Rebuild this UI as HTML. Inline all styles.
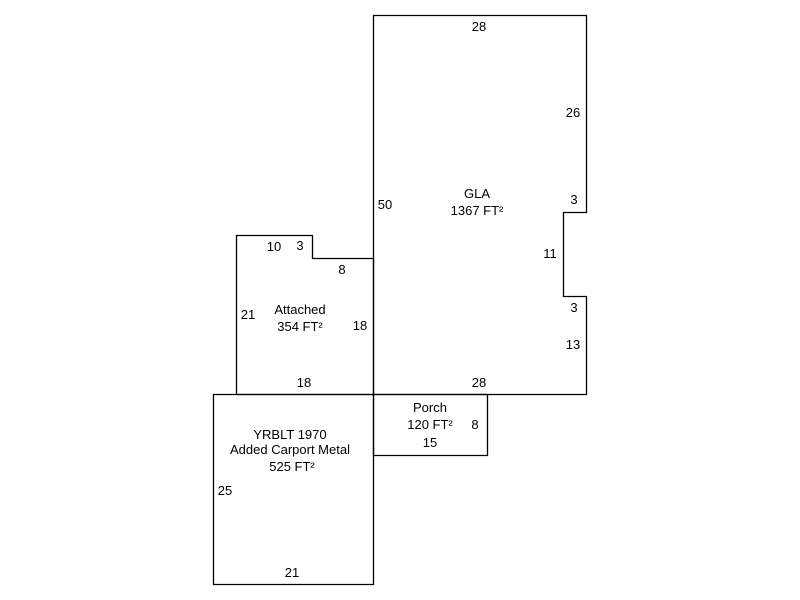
<!DOCTYPE html>
<html><head><style>body{margin:0;background:#fff}svg{display:block}text{font-family:"Liberation Sans",Arial,sans-serif;font-size:13px;fill:#000}</style></head>
<body>
<svg width="800" height="600" xmlns="http://www.w3.org/2000/svg">
<g fill="none" stroke="#000" stroke-width="1.3">
<path d="M373.5 15.5H586.5V212.5H563.5V296.5H586.5V394.5H373.5Z"/>
<path d="M236.5 235.5H312.5V258.5H373.5V394.5H236.5Z"/>
<path d="M213.5 394.5H373.5V584.5H213.5Z"/>
<path d="M373.5 394.5H487.5V455.5H373.5Z"/>
</g>
<g text-anchor="middle">
<text x="479" y="31">28</text>
<text x="573" y="117">26</text>
<text x="574" y="204">3</text>
<text x="550" y="258">11</text>
<text x="574" y="312">3</text>
<text x="573" y="349">13</text>
<text x="479" y="387">28</text>
<text x="385" y="209">50</text>
<text x="477" y="198">GLA</text>
<text x="477" y="215">1367 FT²</text>
<text x="274" y="251">10</text>
<text x="300" y="250">3</text>
<text x="342" y="274">8</text>
<text x="248" y="319">21</text>
<text x="300" y="314">Attached</text>
<text x="300" y="331">354 FT²</text>
<text x="360" y="330">18</text>
<text x="304" y="387">18</text>
<text x="430" y="412">Porch</text>
<text x="430" y="429">120 FT²</text>
<text x="475" y="429">8</text>
<text x="430" y="447">15</text>
<text x="290" y="439">YRBLT 1970</text>
<text x="290" y="454">Added Carport Metal</text>
<text x="292" y="471">525 FT²</text>
<text x="225" y="495">25</text>
<text x="292" y="577">21</text>
</g>
</svg>
</body></html>
